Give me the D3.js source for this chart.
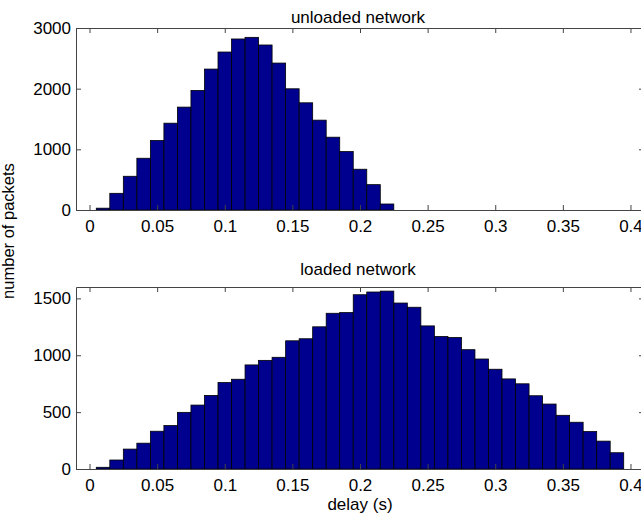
<!DOCTYPE html>
<html><head><meta charset="utf-8">
<script src="https://cdn.jsdelivr.net/npm/d3@7"></script>
<style>body{margin:0;background:#fff}svg{display:block}text{font-family:"Liberation Sans",Arial,sans-serif;fill:#000}</style>
</head><body><svg id="c" width="641" height="517"></svg>
<script>
const binCenters = d3.range(1, 40).map(i => i / 100);
const unloadedCounts = [30,275,556,853,1145,1431,1696,1971,2323,2604,2819,2846,2720,2422,1998,1767,1481,1200,963,672,418,99];
const loadedCounts = [15,79,175,227,332,382,498,562,647,760,789,915,955,982,1127,1145,1250,1369,1375,1532,1556,1564,1459,1422,1258,1165,1156,1049,967,877,792,749,644,571,472,411,329,245,143];
const xTicks = [0,0.05,0.1,0.15,0.2,0.25,0.3,0.35,0.4];
const xTickLabels = ["0","0.05","0.1","0.15","0.2","0.25","0.3","0.35","0.4"];
const topYTicks = [0,1000,2000,3000];
const bottomYTicks = [0,500,1000,1500];
const titles = ["unloaded network","loaded network"];

const svg = d3.select("#c");
const left = 76, right = 644, binW = 0.01, FS = 17;
const x = d3.scaleLinear().domain([-0.01, 0.41]).range([left, right]);

function panel(top, bottom, yMax, counts, yTicks, title, titleY) {
  const y = d3.scaleLinear().domain([0, yMax]).range([bottom, top]);
  const g = svg.append("g");
  g.selectAll("rect.bar").data(counts).join("rect").attr("class","bar")
    .attr("x", (d,i) => x(binCenters[i]-binW/2))
    .attr("width", (d,i) => x(binCenters[i]+binW/2) - x(binCenters[i]-binW/2))
    .attr("y", d => y(d)).attr("height", d => y(0)-y(d))
    .attr("fill", "#00008F").attr("stroke", "#000").attr("stroke-width", 0.8);
  const ax = d3.axisBottom(x).tickValues(xTicks).tickFormat((d,i) => xTickLabels[i]).tickSizeInner(-5).tickSizeOuter(0).tickPadding(10);
  const gb = g.append("g").attr("transform", `translate(0,${bottom})`).call(ax);
  const at = d3.axisTop(x).tickValues(xTicks).tickFormat("").tickSizeInner(-5).tickSizeOuter(0);
  const gt = g.append("g").attr("transform", `translate(0,${top})`).call(at);
  const ay = d3.axisLeft(y).tickValues(yTicks).tickFormat(d3.format("d")).tickSizeInner(-5).tickSizeOuter(0).tickPadding(5);
  const gl = g.append("g").attr("transform", `translate(${left},0)`).call(ay);
  const ar = d3.axisRight(y).tickValues(yTicks).tickFormat("").tickSizeInner(-5).tickSizeOuter(0);
  const gr = g.append("g").attr("transform", `translate(${right},0)`).call(ar);
  [gb,gt,gl,gr].forEach(a => {
    a.selectAll("path.domain").attr("stroke", "#444").attr("stroke-width", 1);
    a.selectAll(".tick line").attr("stroke", "#444");
    a.selectAll("text").attr("font-size", FS).attr("font-family", '"Liberation Sans",Arial,sans-serif').attr("fill","#000");
  });
  g.append("text").attr("x", 358).attr("y", titleY).attr("text-anchor","middle").attr("font-size", FS).text(title);
}
panel(28, 210, 3000, unloadedCounts, topYTicks, titles[0], 23);
panel(287, 469, 1600, loadedCounts, bottomYTicks, titles[1], 275);
svg.append("text").attr("x", 360).attr("y", 510).attr("text-anchor","middle").attr("font-size",FS).text("delay (s)");
svg.append("text").attr("transform","translate(14,231) rotate(-90)").attr("text-anchor","middle").attr("font-size",16.5).text("number of packets");
</script></body></html>
